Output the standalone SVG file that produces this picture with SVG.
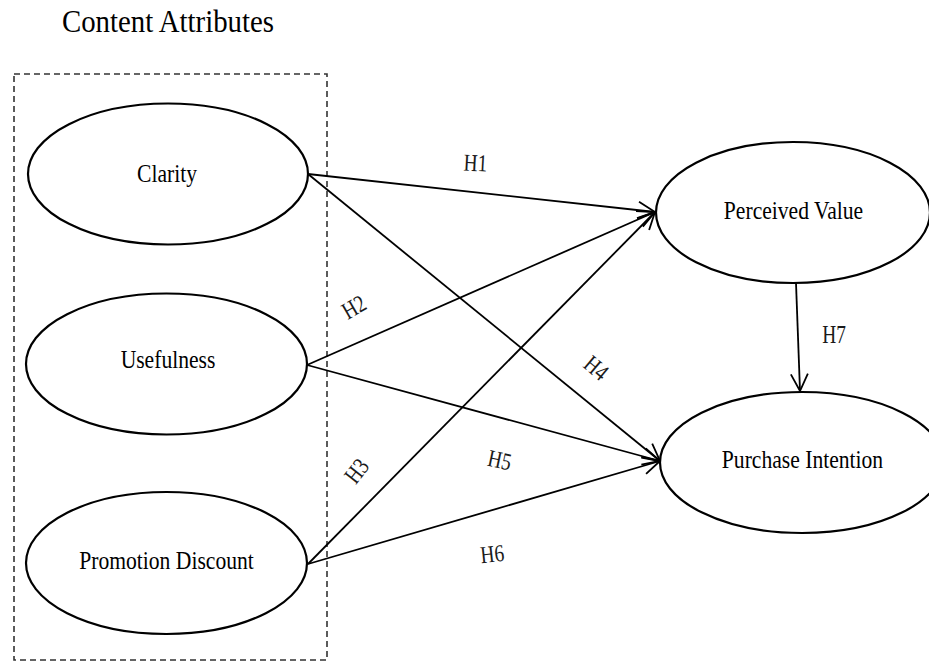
<svg xmlns="http://www.w3.org/2000/svg" width="929" height="661" viewBox="0 0 929 661">
<style>
text{font-family:'Liberation Serif','Times New Roman',Times,serif;fill:#000}
.node{fill:#fff;stroke:#000;stroke-width:2.2}
.lbl{font-size:24px;text-anchor:middle}
.h{font-size:22px;fill:#1a1a1a;text-anchor:middle}
.edge{fill:none;stroke:#000;stroke-width:1.8;marker-end:url(#arr)}
</style>
<defs>
<marker id="arr" markerUnits="userSpaceOnUse" viewBox="-20 -12 24 24" markerWidth="24" markerHeight="24" refX="0" refY="0" orient="auto">
<path d="M-17 -8.5 L0 0 L-17 8.5" fill="none" stroke="#000" stroke-width="1.8"/>
</marker>
</defs>
<rect width="929" height="661" fill="#fff"/>
<text font-size="30" transform="translate(62 32) scale(0.96 1.02)">Content Attributes</text>
<rect x="14" y="74" width="313" height="586" fill="none" stroke="#333" stroke-width="1.6" stroke-dasharray="6 4"/>
<g id="connectors">
<line class="edge" x1="308" y1="174" x2="655" y2="212"/>
<line class="edge" x1="308" y1="174" x2="660" y2="461"/>
<line class="edge" x1="307" y1="365" x2="655" y2="212"/>
<line class="edge" x1="307" y1="365" x2="660" y2="461"/>
<line class="edge" x1="308" y1="564" x2="655" y2="212"/>
<line class="edge" x1="308" y1="564" x2="660" y2="461"/>
<line class="edge" x1="796" y1="283" x2="800" y2="391"/>
</g>
<g id="labels">
<text class="h" transform="translate(475 171) rotate(3) scale(0.88 1.1)">H1</text>
<text class="h" transform="translate(358 314) rotate(-30) scale(0.88 1.1)">H2</text>
<text class="h" transform="translate(363 476) rotate(-52) scale(0.88 1.1)">H3</text>
<text class="h" transform="translate(591 374) rotate(40) scale(0.88 1.1)">H4</text>
<text class="h" transform="translate(498 468) rotate(12) scale(0.88 1.1)">H5</text>
<text class="h" transform="translate(493 562) rotate(-6) scale(0.88 1.1)">H6</text>
<text class="h" transform="translate(834 343) scale(0.88 1.1)">H7</text>
</g>
<g id="clarity">
<ellipse class="node" cx="168" cy="174" rx="140" ry="70.5"/>
<text class="lbl" transform="translate(167 182) scale(0.9 1.04)">Clarity</text>
</g>
<g id="usefulness">
<ellipse class="node" cx="166.5" cy="364" rx="140.5" ry="70.5"/>
<text class="lbl" transform="translate(168 368) scale(0.9 1.04)">Usefulness</text>
</g>
<g id="promotion">
<ellipse class="node" cx="166.5" cy="563" rx="140.5" ry="71"/>
<text class="lbl" transform="translate(166.5 569) scale(0.9 1.04)">Promotion Discount</text>
</g>
<g id="perceived">
<ellipse class="node" cx="793" cy="212.5" rx="137" ry="70.5"/>
<text class="lbl" transform="translate(793.5 219) scale(0.9 1.04)">Perceived Value</text>
</g>
<g id="purchase">
<ellipse class="node" cx="802" cy="462.5" rx="142" ry="70.5"/>
<text class="lbl" transform="translate(802.5 468) scale(0.9 1.04)">Purchase Intention</text>
</g>
</svg>
